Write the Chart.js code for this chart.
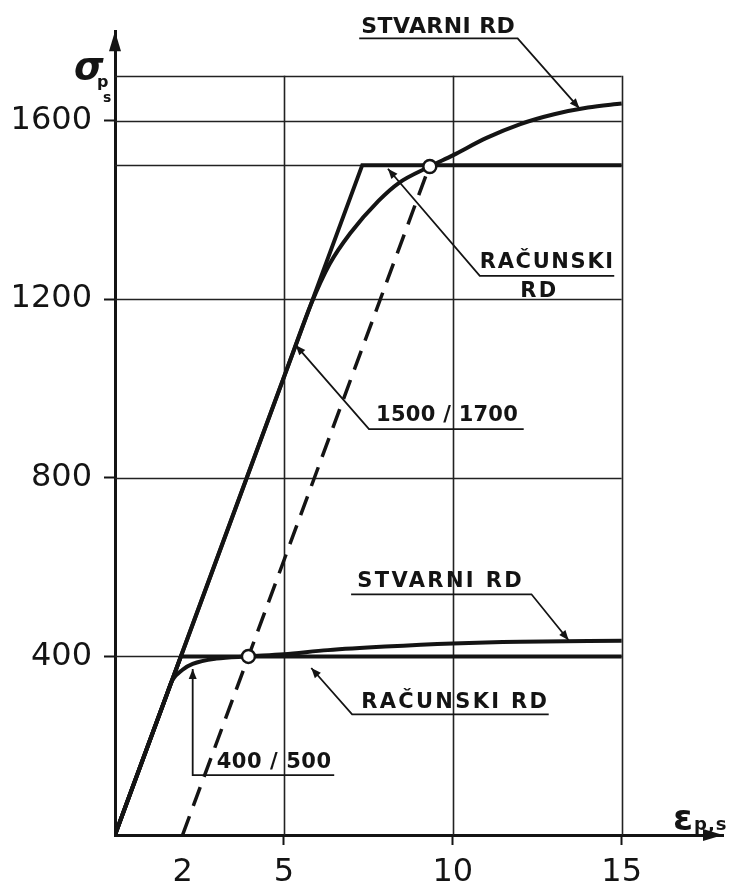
<!DOCTYPE html>
<html>
<head>
<meta charset="utf-8">
<script src="https://cdn.jsdelivr.net/npm/chart.js@4"></script>
<style>
  html, body { margin: 0; padding: 0; background: #fff; }
  canvas { display: block; }
</style>
</head>
<body>
<canvas id="rdChart" width="732" height="888"></canvas>
<script>
// osi: deformacija (promil) i naprezanje (N/mm2)
const strainTicks = [2, 5, 10, 15];
const stressTicks = [400, 800, 1200, 1600];
const gridStrain = [5, 10, 15];
const gridStress = [400, 800, 1200, 1500, 1600, 1700];

// čelik 1500/1700
const designHighStrain = [0, 7.32, 15];
const designHighStress = [0, 1500, 1500];
const actualHighStrain = [0, 2.9, 5.3, 5.8, 6.35, 6.97, 7.8, 8.4, 9.32, 10, 11, 12, 13, 14, 15];
const actualHighStress = [0, 595, 1087, 1188, 1278, 1348, 1420, 1460, 1497, 1522, 1561, 1592, 1614, 1629, 1638];

// čelik 400/500
const designLowStrain = [0, 1.95, 15];
const designLowStress = [0, 400, 400];
const actualLowStrain = [0, 1.5, 1.7, 2.0, 2.3, 3.0, 3.95, 5, 6.3, 8, 10, 12, 15];
const actualLowStress = [0, 308, 347, 370, 383, 395, 400, 405, 414, 422, 429, 433, 435];

// pravac 0.2 % i točke granice
const offsetStrain = [2, 9.32];
const offsetStress = [0, 1500];
const proofStrain = [3.95, 9.32];
const proofStress = [400, 1497];

const INK = '#141414';

// natpisi s pokaznim linijama (u jedinicama osi)
const notes = [
    { texts: [{ t: 'STVARNI RD', x: 7.29, y: 1809, w: 154, size: 22 }],
      path: [[7.23, 1784], [11.92, 1784], [13.75, 1627]] },
    { texts: [{ t: 'RAČUNSKI', x: 10.8, y: 1283, w: 135, size: 21 },
              { t: 'RD', x: 12.0, y: 1216, w: 38, size: 21 }],
      path: [[14.78, 1252], [10.8, 1252], [8.08, 1492]] },
    { texts: [{ t: '1500 / 1700', x: 7.73, y: 940, w: 142, size: 21 }],
      path: [[12.1, 909], [7.52, 909], [5.35, 1097]] },
    { texts: [{ t: 'STVARNI RD', x: 7.17, y: 568, w: 167, size: 21 }],
      path: [[6.99, 539], [12.33, 539], [13.43, 436]] },
    { texts: [{ t: 'RAČUNSKI RD', x: 7.29, y: 296, w: 188, size: 21 }],
      path: [[12.84, 270], [7.02, 270], [5.81, 374]] },
    { texts: [{ t: '400 / 500', x: 3.01, y: 163, w: 115, size: 21 }],
      path: [[6.49, 134], [2.3, 134], [2.3, 372]] }
];

function toPoints(xs, ys) {
    return xs.map((x, i) => ({ x: x, y: ys[i] }));
}

function arrowHead(ctx, x0, y0, x1, y1, len, half) {
    const a = Math.atan2(y1 - y0, x1 - x0);
    ctx.beginPath();
    ctx.moveTo(x1, y1);
    ctx.lineTo(x1 - len * Math.cos(a) + half * Math.sin(a), y1 - len * Math.sin(a) - half * Math.cos(a));
    ctx.lineTo(x1 - len * Math.cos(a) - half * Math.sin(a), y1 - len * Math.sin(a) + half * Math.cos(a));
    ctx.closePath();
    ctx.fill();
}

const gridPlugin = {
    id: 'rdGrid',
    beforeDatasetsDraw(chart) {
        const ctx = chart.ctx;
        const xs = chart.scales.x, ys = chart.scales.y;
        const x0 = xs.getPixelForValue(0);
        const y0 = ys.getPixelForValue(0);
        const xEnd = xs.getPixelForValue(Math.max(...gridStrain));
        const yTop = ys.getPixelForValue(Math.max(...gridStress));
        ctx.save();
        ctx.strokeStyle = '#222';
        ctx.lineWidth = 1.6;
        gridStress.forEach(v => {
            const py = Math.round(ys.getPixelForValue(v)) + 0.5;
            ctx.beginPath();
            ctx.moveTo(x0, py);
            ctx.lineTo(xEnd, py);
            ctx.stroke();
        });
        gridStrain.forEach(v => {
            const px = Math.round(xs.getPixelForValue(v)) + 0.5;
            ctx.beginPath();
            ctx.moveTo(px, y0);
            ctx.lineTo(px, yTop);
            ctx.stroke();
        });
        ctx.restore();
    }
};

const notesPlugin = {
    id: 'rdNotes',
    afterDatasetsDraw(chart) {
        const ctx = chart.ctx;
        const xs = chart.scales.x, ys = chart.scales.y;
        ctx.save();
        ctx.fillStyle = INK;
        ctx.strokeStyle = INK;
        notes.forEach(n => {
            const pts = n.path.map(p => [xs.getPixelForValue(p[0]), ys.getPixelForValue(p[1])]);
            ctx.lineWidth = 1.8;
            ctx.beginPath();
            pts.forEach((p, i) => i ? ctx.lineTo(p[0], p[1]) : ctx.moveTo(p[0], p[1]));
            ctx.stroke();
            const a = pts[pts.length - 2], b = pts[pts.length - 1];
            arrowHead(ctx, a[0], a[1], b[0], b[1], 10, 4);

            n.texts.forEach(t => {
                ctx.font = 'bold ' + t.size + 'px "DejaVu Sans"';
                ctx.letterSpacing = '0px';
                const natural = ctx.measureText(t.t).width;
                ctx.letterSpacing = ((t.w - natural) / t.t.length) + 'px';
                ctx.textAlign = 'left';
                ctx.textBaseline = 'middle';
                ctx.fillText(t.t, xs.getPixelForValue(t.x), ys.getPixelForValue(t.y));
            });
        });
        ctx.restore();
    },
    afterDraw(chart) {
        const ctx = chart.ctx;
        const area = chart.chartArea;
        ctx.save();
        ctx.fillStyle = INK;
        // strelice na osima
        arrowHead(ctx, area.left, area.top + 30, area.left, area.top, 20, 6);
        arrowHead(ctx, area.right - 30, area.bottom, area.right, area.bottom, 20, 6);

        ctx.textAlign = 'left';
        ctx.textBaseline = 'alphabetic';
        ctx.font = 'italic bold 38px "DejaVu Sans"';
        ctx.fillText('σ', area.left - 41, area.top + 48);
        ctx.font = 'bold 16px "DejaVu Sans"';
        ctx.fillText('p', area.left - 18, area.top + 56);
        ctx.font = 'bold 14px "DejaVu Sans"';
        ctx.fillText('s', area.left - 12, area.top + 71);

        ctx.font = 'bold 36px "DejaVu Sans"';
        ctx.fillText('ε', area.right - 50, area.bottom - 5);
        ctx.font = 'bold 18px "DejaVu Sans"';
        ctx.letterSpacing = '1px';
        ctx.fillText('p,s', area.right - 29, area.bottom - 5);
        ctx.restore();
    }
};

const lineStyle = {
    showLine: true,
    borderColor: INK,
    borderWidth: 4,
    pointRadius: 0,
    borderCapStyle: 'butt',
    borderJoinStyle: 'miter',
    order: 1
};

const tickFont = { family: 'DejaVu Sans', size: 32 };

new Chart(document.getElementById('rdChart').getContext('2d'), {
    type: 'scatter',
    data: {
        datasets: [
            {
                data: toPoints(proofStrain, proofStress),
                showLine: false,
                pointRadius: 6.5,
                pointBackgroundColor: '#fff',
                pointBorderColor: INK,
                pointBorderWidth: 2.5,
                order: 0
            },
            Object.assign({ data: toPoints(designHighStrain, designHighStress), tension: 0 }, lineStyle),
            Object.assign({ data: toPoints(actualHighStrain, actualHighStress), cubicInterpolationMode: 'monotone' }, lineStyle),
            Object.assign({ data: toPoints(designLowStrain, designLowStress), tension: 0 }, lineStyle),
            Object.assign({ data: toPoints(actualLowStrain, actualLowStress), cubicInterpolationMode: 'monotone' }, lineStyle),
            Object.assign({}, lineStyle, { data: toPoints(offsetStrain, offsetStress), borderWidth: 3.5, borderDash: [20, 11] })
        ]
    },
    options: {
        responsive: false,
        animation: false,
        devicePixelRatio: 1,
        layout: { padding: { top: 27, right: 7, left: 0, bottom: 0 } },
        plugins: {
            legend: { display: false },
            tooltip: { enabled: false }
        },
        scales: {
            x: {
                type: 'linear',
                min: 0,
                max: 18,
                afterFit: s => { s.height = 53; },
                afterBuildTicks: s => { s.ticks = strainTicks.map(v => ({ value: v })); },
                border: { display: true, color: INK, width: 3 },
                grid: {
                    drawOnChartArea: false,
                    drawTicks: true,
                    tickLength: 10,
                    tickWidth: 2,
                    tickColor: c => (c.tick && c.tick.value === 2) ? 'rgba(0,0,0,0)' : INK
                },
                ticks: { font: tickFont, color: INK, padding: 8, autoSkip: false, maxRotation: 0,
                         callback: v => String(v) }
            },
            y: {
                type: 'linear',
                min: 0,
                max: 1800,
                afterFit: s => { s.width = 115; },
                afterBuildTicks: s => { s.ticks = stressTicks.map(v => ({ value: v })); },
                border: { display: true, color: INK, width: 3 },
                grid: {
                    drawOnChartArea: false,
                    drawTicks: true,
                    tickLength: 11,
                    tickWidth: 2,
                    tickColor: INK
                },
                ticks: { font: tickFont, color: INK, padding: 12, autoSkip: false,
                         callback: v => String(v) }
            }
        }
    },
    plugins: [gridPlugin, notesPlugin]
});
</script>
</body>
</html>
